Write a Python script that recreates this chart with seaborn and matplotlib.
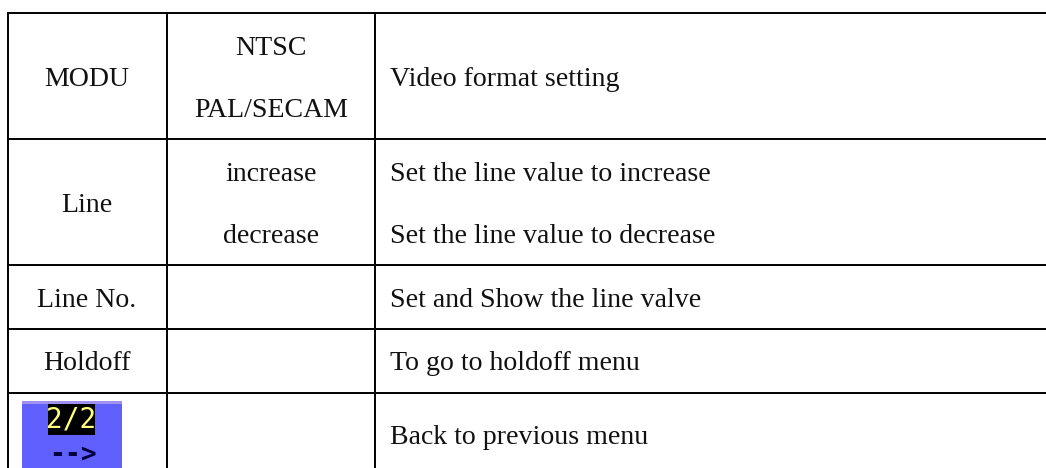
import matplotlib
matplotlib.use("Agg")
import matplotlib.pyplot as plt
from matplotlib.patches import Rectangle
import seaborn as sns

col1_labels = ["MODU", "Line", "Line No.", "Holdoff"]
col1_y = [86, 212, 307, 370]
col2_labels = ["NTSC", "PAL/SECAM", "increase", "decrease"]
col2_y = [55, 117, 181, 243]
col3_labels = ["Video format setting", "Set the line value to increase",
               "Set the line value to decrease", "Set and Show the line valve",
               "To go to holdoff menu", "Back to previous menu"]
col3_y = [85.5, 181, 243, 307, 370.5, 444]
row_lines = [13, 139, 265, 329, 392.5]
col_lines = [8, 166.5, 375]
col_text_x = [87, 271, 390]

W, H = 1046, 468
sns.set_theme(style="white", rc={"font.family": ["Liberation Serif", "DejaVu Serif"]})
plt.rcParams["font.family"] = ["Liberation Serif", "DejaVu Serif"]

fig = plt.figure(figsize=(W / 100, H / 100), dpi=100, facecolor="white")
ax = fig.add_axes([0, 0, 1, 1])
ax.set_xlim(0, W)
ax.set_ylim(H, 0)
ax.axis("off")

LW = 1.4
FS = 20.1
ax.hlines(row_lines, col_lines[0] - 1, W, color="black", lw=LW)
ax.vlines(col_lines, row_lines[0] - 1, H, color="black", lw=LW)

kw = dict(fontsize=FS, color="#111111", va="baseline")
for s, y in zip(col1_labels, col1_y):
    ax.text(col_text_x[0], y, s, ha="center", **kw)
for s, y in zip(col2_labels, col2_y):
    ax.text(col_text_x[1], y, s, ha="center", **kw)
for s, y in zip(col3_labels, col3_y):
    ax.text(col_text_x[2], y, s, ha="left", **kw)

# Menu button icon
ax.add_patch(Rectangle((22, 401), 100, 67, fc="#6060FF", ec="none"))
ax.add_patch(Rectangle((22, 401), 100, 2.5, fc="#A090F0", ec="none"))
ax.add_patch(Rectangle((48, 404), 47, 31, fc="black", ec="none"))
ax.text(71.5, 420, "2/2", ha="center", va="center", fontsize=20, color="#FFFF80",
        family="DejaVu Sans Mono", fontweight="normal")
ax.text(73, 454, "-->", ha="center", va="center", fontsize=19, color="#000040",
        family="DejaVu Sans Mono", fontweight="bold")

fig.savefig("out.png", dpi=100, facecolor="white")
